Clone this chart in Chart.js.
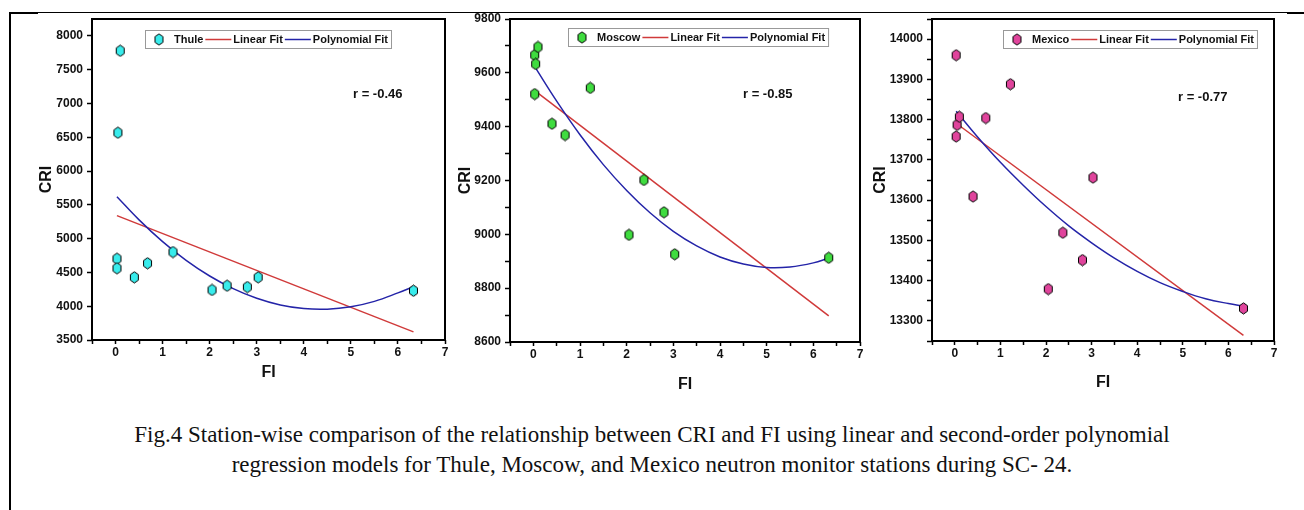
<!DOCTYPE html>
<html>
<head>
<meta charset="utf-8">
<script src="https://cdn.jsdelivr.net/npm/chart.js@4.4.0/dist/chart.umd.min.js"></script>
<style>
    body { margin: 0; background: #fff; width: 1304px; height: 510px; position: relative; overflow: hidden; font-family: "Liberation Sans", Arial, sans-serif; }
    .panel { position: absolute; top: 0; height: 400px; }
    .rule { position: absolute; background: #000; }
    #caption { position: absolute; left: 0; width: 1304px; top: 420px; text-align: center; font-family: "Liberation Serif", "Times New Roman", serif; font-size: 23px; line-height: 30px; color: #111; }
</style>
</head>
<body>
<div class="rule" style="left:9px;top:12px;width:2px;height:498px"></div>
<div class="rule" style="left:9px;top:12px;width:1281px;height:1px"></div>
<div class="rule" style="left:9px;top:12px;width:29px;height:2px"></div>
<div class="rule" style="left:1287px;top:12px;width:17px;height:2px"></div>

<div class="panel" style="left:12px;width:440px"><canvas id="thuleChart"></canvas></div>
<div class="panel" style="left:452px;width:414px"><canvas id="moscowChart"></canvas></div>
<div class="panel" style="left:866px;width:424px"><canvas id="mexicoChart"></canvas></div>

<div id="caption">Fig.4 Station-wise comparison of the relationship between CRI and FI using linear and second-order polynomial<br>regression models for Thule, Moscow, and Mexico neutron monitor stations during SC- 24.</div>

<script>
// FI values (shared by all stations)
const fi = [0.03, 0.03, 0.05, 0.10, 0.40, 0.68, 1.22, 2.05, 2.37, 2.80, 3.03, 6.33];

// CRI per station
const thuleCri = [4703, 4561, 6567, 7780, 4427, 4635, 4802, 4240, 4303, 4284, 4427, 4229];
const moscowCri = [9666, 9521, 9633, 9696, 9411, 9369, 9544, 8998, 9202, 9082, 8926, 8913];
const mexicoCri = [13758, 13960, 13787, 13807, 13609, 13804, 13888, 13379, 13519, 13451, 13656, 13331];

// fit lines
const linX = [0.03, 6.33];
const thuleLin = [5340, 3620];
const moscowLin = [9534, 8697];
const mexicoLin = [13791, 13264];

const polyX = [0.03, 0.5, 1, 1.5, 2, 2.5, 3, 3.5, 4, 4.5, 5, 5.5, 6, 6.33];
const thulePoly = [5620, 5278, 4956, 4679, 4447, 4260, 4117, 4018, 3965, 3956, 3992, 4072, 4197, 4290];
const moscowPoly = [9623, 9495, 9370, 9259, 9163, 9080, 9011, 8957, 8916, 8890, 8877, 8879, 8894, 8912];
const mexicoPoly = [13821, 13757, 13694, 13637, 13584, 13536, 13494, 13456, 13423, 13395, 13373, 13355, 13343, 13337];

const rTexts = ['r = -0.46', 'r = -0.85', 'r = -0.77'];

const FONT = '"Liberation Sans", Arial, sans-serif';

function hexMarker(fill) {
    const c = document.createElement('canvas');
    c.width = 11; c.height = 13;
    const g = c.getContext('2d');
    g.beginPath();
    for (let i = 0; i < 6; i++) {
        const ang = Math.PI / 3 * i - Math.PI / 2;
        const px = 5.5 + 4.6 * Math.cos(ang), py = 6.5 + 5.6 * Math.sin(ang);
        if (i) g.lineTo(px, py); else g.moveTo(px, py);
    }
    g.closePath();
    g.fillStyle = fill;
    g.fill();
    g.strokeStyle = '#000';
    g.lineWidth = 1;
    g.stroke();
    return c;
}

const toPts = (xs, ys) => xs.map((x, i) => ({ x, y: ys[i] }));

// frame, legend and r label
const panelDecor = {
    id: 'panelDecor',
    afterDatasetsDraw(chart, args, opts) {
        const { ctx, chartArea: a } = chart;
        ctx.save();
        ctx.strokeStyle = '#000';
        ctx.lineWidth = 2;
        ctx.strokeRect(a.left, a.top, a.right - a.left, a.bottom - a.top);

        ctx.fillStyle = '#111';
        ctx.textBaseline = 'middle';
        ctx.textAlign = 'left';
        ctx.font = 'bold 13px ' + FONT;
        ctx.fillText(opts.rText, opts.rX, opts.rY);

        // legend
        ctx.font = 'bold 11px ' + FONT;
        const ds = chart.data.datasets;
        let w = 29;
        ds.forEach((d, i) => {
            if (i > 0) w += 30;
            w += ctx.measureText(d.label).width;
        });
        w += 3;
        const x0 = opts.legendX, y0 = opts.legendY, h = 18;
        ctx.fillStyle = '#fff';
        ctx.fillRect(x0, y0, w, h);
        ctx.strokeStyle = '#999';
        ctx.lineWidth = 1;
        ctx.strokeRect(x0 + 0.5, y0 + 0.5, w, h);
        let x = x0;
        const cy = y0 + h / 2 + 0.5;
        ds.forEach((d, i) => {
            if (i === 0) {
                const img = d.pointStyle;
                ctx.drawImage(img, x0 + 14 - img.width / 2, cy - img.height / 2);
                x = x0 + 29;
            } else {
                ctx.strokeStyle = d.borderColor;
                ctx.lineWidth = 1.5;
                ctx.beginPath();
                ctx.moveTo(x + 2, cy);
                ctx.lineTo(x + 28, cy);
                ctx.stroke();
                x += 30;
            }
            ctx.fillStyle = '#111';
            ctx.fillText(d.label, x, cy);
            x += ctx.measureText(d.label).width;
        });
        ctx.restore();
    }
};

function makeChart(id, p) {
    return new Chart(document.getElementById(id), {
        type: 'scatter',
        data: {
            datasets: [
                {
                    label: p.name,
                    data: toPts(fi, p.cri),
                    pointStyle: hexMarker(p.color),
                    pointRadius: 5,
                    order: 0
                },
                {
                    type: 'line',
                    label: 'Linear Fit',
                    data: toPts(linX, p.lin),
                    borderColor: '#d03a3a',
                    borderWidth: 1.5,
                    pointRadius: 0,
                    order: 2
                },
                {
                    type: 'line',
                    label: 'Polynomial Fit',
                    data: toPts(polyX, p.poly),
                    borderColor: '#2424a8',
                    borderWidth: 1.5,
                    pointRadius: 0,
                    tension: 0.4,
                    order: 1
                }
            ]
        },
        options: {
            responsive: true,
            maintainAspectRatio: false,
            animation: false,
            layout: { padding: { top: p.top, right: p.padRight, left: 0, bottom: 0 }, autoPadding: false },
            plugins: {
                legend: { display: false },
                tooltip: { enabled: false },
                panelDecor: { rText: p.rText, rX: p.rX, rY: p.rY, legendX: p.legendX, legendY: p.legendY }
            },
            scales: {
                x: {
                    type: 'linear',
                    min: -0.5,
                    max: 7,
                    border: { display: false },
                    grid: { drawOnChartArea: false, tickLength: 4, tickColor: '#000', tickWidth: 1.5 },
                    ticks: {
                        stepSize: 0.5,
                        padding: 1,
                        color: '#111',
                        font: { family: FONT, weight: 'bold', size: 12 },
                        callback: v => (Number.isInteger(v) && v >= 0 ? String(v) : '')
                    },
                    title: { display: true, text: 'FI', color: '#111', font: { family: FONT, weight: 'bold', size: 16 }, padding: { top: 0, bottom: p.xTitlePad } },
                    afterFit: s => { s.height = p.xHeight; }
                },
                y: {
                    min: p.yMin,
                    max: p.yMax,
                    border: { display: false },
                    grid: { drawOnChartArea: false, tickLength: 5, tickColor: '#000', tickWidth: 1.5 },
                    ticks: {
                        stepSize: p.yStep,
                        padding: 4,
                        color: '#111',
                        font: { family: FONT, weight: 'bold', size: 12 },
                        callback: v => (Math.round(v) % p.yLabelStep === 0 ? String(v) : '')
                    },
                    title: { display: true, text: 'CRI', color: '#111', font: { family: FONT, weight: 'bold', size: 16 }, padding: { top: p.yTitlePad, bottom: 0 } },
                    afterFit: s => { s.width = p.yWidth; }
                }
            }
        },
        plugins: [panelDecor]
    });
}

makeChart('thuleChart', {
    name: 'Thule', color: '#38ecec', cri: thuleCri, lin: thuleLin, poly: thulePoly,
    yMin: 3500, yMax: 8250, yStep: 250, yLabelStep: 500,
    top: 19, padRight: 7, yWidth: 80, xHeight: 60, yTitlePad: 25, xTitlePad: 18,
    rText: rTexts[0], rX: 341, rY: 94, legendX: 133, legendY: 30
});

makeChart('moscowChart', {
    name: 'Moscow', color: '#3fdc3f', cri: moscowCri, lin: moscowLin, poly: moscowPoly,
    yMin: 8600, yMax: 9800, yStep: 100, yLabelStep: 200,
    top: 19, padRight: 6, yWidth: 58, xHeight: 58, yTitlePad: 4, xTitlePad: 6,
    rText: rTexts[1], rX: 291, rY: 94, legendX: 116, legendY: 28
});

makeChart('mexicoChart', {
    name: 'Mexico', color: '#e0449c', cri: mexicoCri, lin: mexicoLin, poly: mexicoPoly,
    yMin: 13250, yMax: 14050, yStep: 50, yLabelStep: 100,
    top: 19, padRight: 16, yWidth: 66, xHeight: 59, yTitlePad: 5, xTitlePad: 8,
    rText: rTexts[2], rX: 312, rY: 97, legendX: 137, legendY: 30
});
</script>
</body>
</html>
